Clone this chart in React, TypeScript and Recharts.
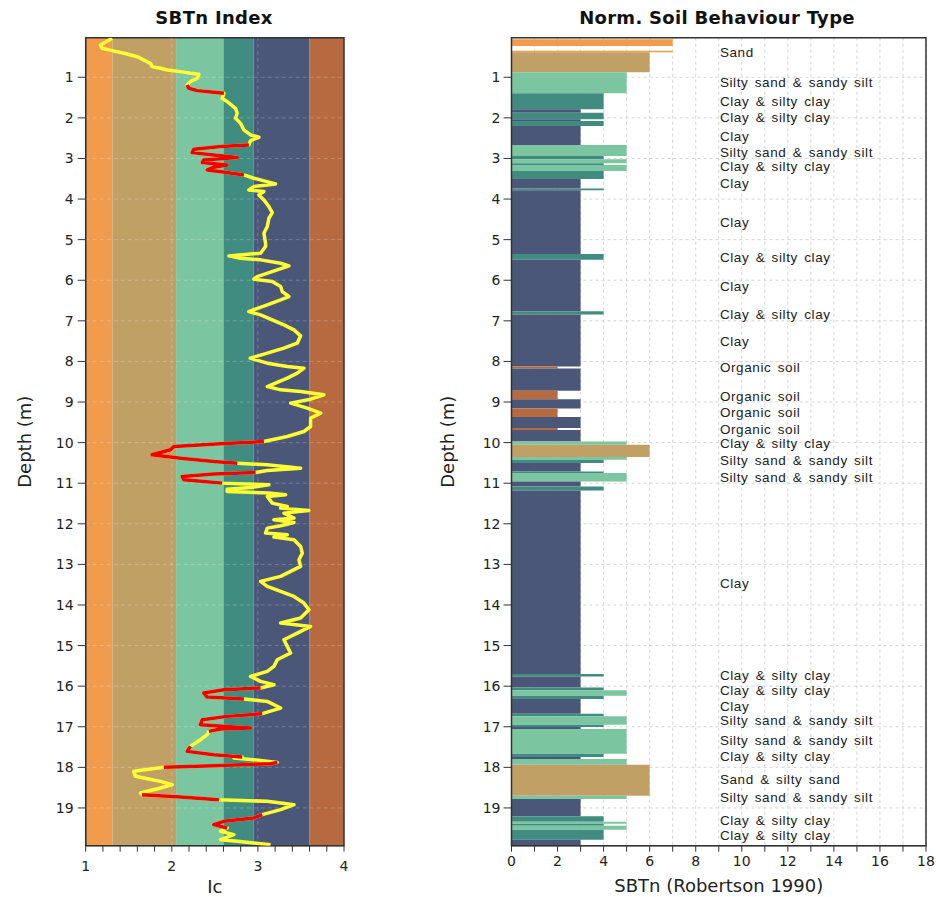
import React from 'react';
import { ScatterChart, XAxis, YAxis, ReferenceArea, ReferenceLine, Scatter, CartesianGrid, Label } from 'recharts';

// Ic profile: [depth (m), Ic]
const icProfile: [number, number][] = [
  [0.04, 1.306], [0.204, 1.171], [0.286, 1.19], [0.344, 1.306], [0.426, 1.481], [0.508, 1.616], [0.574, 1.674],
  [0.656, 1.752], [0.738, 1.771], [0.779, 1.868], [0.82, 1.946], [0.861, 2.101], [0.902, 2.217], [0.927, 2.314],
  [1.025, 2.295], [1.107, 2.217], [1.189, 2.178], [1.271, 2.198], [1.329, 2.295], [1.37, 2.488], [1.395, 2.605],
  [1.518, 2.585], [1.6, 2.643], [1.764, 2.74], [1.887, 2.76], [2.01, 2.74], [2.13, 2.798], [2.297, 2.837],
  [2.421, 2.915], [2.478, 3.012], [2.56, 2.915], [2.667, 2.895], [2.708, 2.566], [2.773, 2.256], [2.856, 2.236],
  [2.913, 2.488], [2.979, 2.76], [3.037, 2.372], [3.102, 2.353], [3.159, 2.643], [3.216, 2.488], [3.282, 2.411],
  [3.347, 2.643], [3.406, 2.837], [3.488, 2.953], [3.627, 3.205], [3.693, 2.953], [3.775, 2.895], [3.816, 3.07],
  [3.898, 3.012], [4.021, 3.07], [4.186, 3.128], [4.333, 3.167], [4.473, 3.128], [4.678, 3.109], [4.842, 3.07],
  [5.088, 3.089], [5.17, 3.089], [5.334, 3.031], [5.4, 2.663], [5.457, 2.798], [5.498, 3.031], [5.581, 3.264],
  [5.646, 3.36], [5.745, 3.225], [5.909, 2.992], [5.975, 2.953], [6.032, 3.167], [6.155, 3.264], [6.278, 3.283],
  [6.401, 3.36], [6.483, 3.264], [6.607, 3.109], [6.771, 2.895], [6.853, 3.031], [6.976, 3.167], [7.099, 3.302],
  [7.222, 3.419], [7.37, 3.496], [7.55, 3.457], [7.674, 3.302], [7.797, 3.109], [7.92, 2.911], [8.043, 3.109],
  [8.125, 3.341], [8.166, 3.535], [8.289, 3.457], [8.412, 3.341], [8.618, 3.109], [8.7, 3.264], [8.741, 3.496],
  [8.823, 3.767], [8.93, 3.612], [9.028, 3.38], [9.151, 3.574], [9.274, 3.729], [9.397, 3.612], [9.603, 3.612],
  [9.726, 3.535], [9.849, 3.341], [9.972, 3.07], [10.03, 2.566], [10.095, 2.023], [10.177, 1.984], [10.3, 1.771],
  [10.383, 2.101], [10.465, 2.488], [10.506, 2.76], [10.547, 3.109], [10.629, 3.496], [10.686, 3.109], [10.735, 2.973],
  [10.776, 2.488], [10.834, 2.12], [10.916, 2.14], [10.957, 2.372], [10.998, 2.585], [11.023, 2.953], [11.039, 3.128],
  [11.097, 2.953], [11.146, 2.643], [11.203, 2.643], [11.244, 3.128], [11.285, 3.322], [11.326, 3.109], [11.49, 3.167],
  [11.573, 3.341], [11.614, 3.264], [11.671, 3.593], [11.737, 3.302], [11.86, 3.419], [11.901, 3.186], [11.967, 3.419],
  [12.049, 3.264], [12.106, 3.109], [12.229, 3.089], [12.27, 3.341], [12.328, 3.186], [12.394, 3.419], [12.558, 3.496],
  [12.722, 3.516], [12.886, 3.477], [13.05, 3.496], [13.173, 3.38], [13.296, 3.264], [13.419, 3.031], [13.543, 3.109],
  [13.666, 3.264], [13.789, 3.419], [13.953, 3.535], [14.117, 3.593], [14.322, 3.496], [14.445, 3.264], [14.528, 3.612],
  [14.692, 3.457], [14.856, 3.302], [15.02, 3.341], [15.184, 3.38], [15.348, 3.225], [15.513, 3.186], [15.636, 3.109],
  [15.759, 2.915], [15.882, 3.031], [15.964, 3.186], [16.046, 3.031], [16.087, 2.605], [16.169, 2.372], [16.268, 2.411],
  [16.317, 2.837], [16.375, 3.109], [16.539, 3.264], [16.678, 3.05], [16.744, 2.643], [16.826, 2.353], [16.949, 2.333],
  [17.007, 2.721], [17.031, 2.915], [17.056, 2.566], [17.113, 2.43], [17.195, 2.411], [17.318, 2.333], [17.483, 2.217],
  [17.606, 2.178], [17.688, 2.488], [17.745, 2.818], [17.77, 2.721], [17.828, 3.031], [17.877, 3.225], [17.91, 3.147],
  [17.959, 2.488], [18.0, 1.907], [18.098, 1.558], [18.221, 1.578], [18.345, 1.868], [18.427, 2.004], [18.509, 1.868],
  [18.632, 1.636], [18.673, 1.655], [18.73, 2.101], [18.796, 2.547], [18.837, 3.109], [18.919, 3.419], [19.042, 3.264],
  [19.165, 3.05], [19.247, 2.953], [19.33, 2.605], [19.412, 2.488], [19.494, 2.643], [19.576, 2.566], [19.658, 2.721],
  [19.781, 2.566], [19.822, 2.76], [19.904, 3.147],
];

// depth ranges drawn in red (transition zones)
const redRanges: [number, number][] = [
  [1.189, 1.395], [2.667, 3.406], [9.972, 10.506], [10.735, 10.998], [16.046, 16.317],
  [16.678, 17.113], [17.483, 17.745], [17.877, 18.0], [18.673, 18.796], [19.165, 19.494],
];

// Ic zone boundaries and colours
const bandEdges = [1, 1.31, 2.05, 2.6, 2.95, 3.6, 4];
const bandColors = ['#F09C4C', '#C1A065', '#7BC6A0', '#418C80', '#4A5779', '#B7693F'];

// SBTn colour per zone number
const sbtZones = [2, 3, 4, 5, 6, 7];
const sbtZoneColors = ['#B7693F', '#4A5779', '#418C80', '#7BC6A0', '#C1A065', '#F09C4C'];

// layers: [top depth, bottom depth, SBTn]
const layers: [number, number, number][] = [
  [0.064, 0.229, 7], [0.345, 0.384, 7], [0.384, 0.877, 6], [0.877, 1.394, 5], [1.394, 1.788, 4],
  [1.788, 1.871, 3], [1.871, 2.034, 4], [2.034, 2.076, 3], [2.076, 2.199, 4], [2.199, 2.667, 3],
  [2.667, 2.938, 5], [2.938, 3.019, 4], [3.019, 3.118, 5], [3.118, 3.159, 4], [3.159, 3.307, 5],
  [3.307, 3.504, 4], [3.504, 3.743, 3], [3.743, 3.782, 4], [3.782, 5.351, 3], [5.351, 5.498, 4],
  [5.498, 6.762, 3], [6.762, 6.845, 4], [6.845, 8.126, 3], [8.126, 8.175, 2], [8.175, 8.724, 3],
  [8.724, 8.929, 2], [8.929, 9.16, 3], [9.16, 9.372, 2], [9.372, 9.643, 3], [9.643, 9.692, 2],
  [9.692, 9.973, 3], [9.973, 10.054, 5], [10.054, 10.357, 6], [10.357, 10.424, 5], [10.424, 10.505, 4],
  [10.505, 10.711, 3], [10.711, 10.751, 4], [10.751, 10.958, 5], [10.958, 11.081, 3], [11.081, 11.179, 4],
  [11.179, 15.7, 3], [15.7, 15.76, 4], [15.76, 16.03, 3], [16.03, 16.1, 4], [16.1, 16.235, 5],
  [16.235, 16.316, 4], [16.316, 16.678, 3], [16.678, 16.744, 4], [16.744, 16.948, 5], [16.948, 17.006, 4],
  [17.006, 17.055, 3], [17.055, 17.663, 5], [17.663, 17.745, 4], [17.745, 17.794, 3], [17.794, 17.935, 5],
  [17.935, 18.698, 6], [18.698, 18.78, 5], [18.78, 19.207, 3], [19.207, 19.338, 4], [19.338, 19.387, 5],
  [19.387, 19.436, 4], [19.436, 19.535, 5], [19.535, 19.781, 4], [19.781, 19.93, 3],
];

// layer description labels
const labelDepths = [
  0.369, 1.124, 1.6, 1.97, 2.445, 2.847, 3.2, 3.61, 4.57, 5.43, 6.156, 6.83, 7.51, 8.15, 8.865, 9.26, 9.66,
  10.01, 10.42, 10.86, 13.46, 15.72, 16.09, 16.48, 16.84, 17.34, 17.73, 18.3, 18.73, 19.29, 19.675,
];
const labelTexts = [
  'Sand', 'Silty sand & sandy silt', 'Clay & silty clay', 'Clay & silty clay', 'Clay', 'Silty sand & sandy silt',
  'Clay & silty clay', 'Clay', 'Clay', 'Clay & silty clay', 'Clay', 'Clay & silty clay', 'Clay', 'Organic soil',
  'Organic soil', 'Organic soil', 'Organic soil', 'Clay & silty clay', 'Silty sand & sandy silt',
  'Silty sand & sandy silt', 'Clay', 'Clay & silty clay', 'Clay & silty clay', 'Clay', 'Silty sand & sandy silt',
  'Silty sand & sandy silt', 'Clay & silty clay', 'Sand & silty sand', 'Silty sand & sandy silt',
  'Clay & silty clay', 'Clay & silty clay',
];
const labelSbt = 9.05;

const depthTicks = [1, 2, 3, 4, 5, 6, 7, 8, 9, 10, 11, 12, 13, 14, 15, 16, 17, 18, 19];
const icTicks = [1, 1.2, 1.4, 1.6, 1.8, 2, 2.2, 2.4, 2.6, 2.8, 3, 3.2, 3.4, 3.6, 3.8, 4];
const icGridLines = [2, 3];
const sbtTicks = [0, 1, 2, 3, 4, 5, 6, 7, 8, 9, 10, 11, 12, 13, 14, 15, 16, 17, 18];
const depthDomain: [number, number] = [0.025, 19.93];

const profilePts = icProfile.map(([d, ic]) => ({ x: ic, y: d }));
const redSegments = redRanges.map(([a, b]) => profilePts.filter((p) => p.y >= a - 1e-9 && p.y <= b + 1e-9));
const labelPts = labelDepths.map((d, i) => ({ x: labelSbt, y: d, label: labelTexts[i] }));
const zoneColor = (z: number) => sbtZoneColors[sbtZones.indexOf(z)];

const FONT = 'DejaVu Sans, Verdana, sans-serif';
const tickStyle = { fontSize: 14, fill: '#222', fontFamily: FONT };
const axisTitle = { fontSize: 18, fill: '#222', fontFamily: FONT };
const intOnly = (v: number) => (Math.abs(v - Math.round(v)) < 1e-6 ? String(Math.round(v)) : '');
const evenOnly = (v: number) => (Math.round(v) % 2 === 0 ? String(Math.round(v)) : '');

const NoDot = () => <g />;

const LabelShape = (p: any) => (
  <text
    x={p.cx}
    y={p.cy}
    dy="0.36em"
    fontSize={13.5}
    fill="#222"
    fontFamily="Liberation Sans, Arial, sans-serif"
    style={{ letterSpacing: '0.6px', wordSpacing: '2px' }}
  >
    {p.payload.label}
  </text>
);

const titleStyle: React.CSSProperties = {
  position: 'absolute',
  top: 7,
  fontFamily: FONT,
  fontWeight: 'bold',
  fontSize: 18,
  letterSpacing: '0.3px',
  color: '#111',
  textAlign: 'center',
  whiteSpace: 'nowrap',
};

export default function App() {
  return (
    <div style={{ position: 'absolute', left: 0, top: 0, width: 936, height: 897, background: '#fff' }}>
      <div style={{ ...titleStyle, left: 114, width: 200 }}>SBTn Index</div>
      <div style={{ ...titleStyle, left: 567, width: 300 }}>Norm. Soil Behaviour Type</div>

      <div style={{ position: 'absolute', left: 0, top: 0 }}>
        <ScatterChart width={360} height={897} margin={{ top: 37.7, right: 16, bottom: 0, left: 0 }}>
          <XAxis
            type="number"
            dataKey="x"
            domain={[1, 4]}
            ticks={icTicks}
            interval={0}
            tickFormatter={intOnly}
            tick={tickStyle}
            tickSize={6}
            tickMargin={9}
            height={51.3}
            stroke="#333"
            allowDataOverflow
          >
            <Label value="Ic" position="insideBottom" offset={4} style={axisTitle} />
          </XAxis>
          <YAxis
            type="number"
            dataKey="y"
            reversed
            domain={depthDomain}
            ticks={depthTicks}
            interval={0}
            tick={tickStyle}
            tickSize={8}
            tickMargin={4}
            width={85.7}
            stroke="#333"
            allowDataOverflow
          >
            <Label value="Depth (m)" angle={-90} position="insideLeft" offset={25} style={{ ...axisTitle, textAnchor: 'middle' }} />
          </YAxis>
          {bandColors.map((c, i) => (
            <ReferenceArea
              key={'b' + i}
              x1={bandEdges[i]}
              x2={bandEdges[i + 1]}
              y1={depthDomain[0]}
              y2={depthDomain[1]}
              fill={c}
              fillOpacity={1}
              stroke="none"
            />
          ))}
          {depthTicks.map((d) => (
            <ReferenceLine key={'h' + d} y={d} stroke="#ffffff" strokeOpacity={0.22} strokeDasharray="4 3" />
          ))}
          {icGridLines.map((v) => (
            <ReferenceLine key={'v' + v} x={v} stroke="#ffffff" strokeOpacity={0.22} strokeDasharray="4 3" />
          ))}
          <Scatter
            data={profilePts}
            shape={NoDot}
            line={{ stroke: '#FFFF33', strokeWidth: 3.5, strokeLinejoin: 'round' }}
            isAnimationActive={false}
          />
          {redSegments.map((seg, i) => (
            <Scatter
              key={'r' + i}
              data={seg}
              shape={NoDot}
              line={{ stroke: '#F00000', strokeWidth: 3.5, strokeLinejoin: 'round' }}
              isAnimationActive={false}
            />
          ))}
          <ReferenceArea x1={1} x2={4} y1={depthDomain[0]} y2={depthDomain[1]} fill="none" stroke="#333" strokeWidth={1.5} />
        </ScatterChart>
      </div>

      <div style={{ position: 'absolute', left: 400, top: 0 }}>
        <ScatterChart width={536} height={897} margin={{ top: 37.7, right: 10, bottom: 0, left: 0 }}>
          <CartesianGrid stroke="#d4d4d4" strokeDasharray="3 3" />
          <XAxis
            type="number"
            dataKey="x"
            domain={[0, 18]}
            ticks={sbtTicks}
            interval={0}
            tickFormatter={evenOnly}
            tick={tickStyle}
            tickSize={6}
            tickMargin={4}
            height={51.3}
            stroke="#333"
            allowDataOverflow
          >
            <Label value="SBTn (Robertson 1990)" position="insideBottom" offset={5} style={axisTitle} />
          </XAxis>
          <YAxis
            type="number"
            dataKey="y"
            reversed
            domain={depthDomain}
            ticks={depthTicks}
            interval={0}
            tick={tickStyle}
            tickSize={8}
            tickMargin={3}
            width={111.5}
            stroke="#333"
            allowDataOverflow
          >
            <Label value="Depth (m)" angle={-90} position="insideLeft" offset={48} style={{ ...axisTitle, textAnchor: 'middle' }} />
          </YAxis>
          {layers.map(([t, b, z], i) => (
            <ReferenceArea key={'l' + i} x1={0} x2={z} y1={t} y2={b} fill={zoneColor(z)} fillOpacity={1} stroke="none" />
          ))}
          <Scatter data={labelPts} shape={LabelShape} isAnimationActive={false} />
          <ReferenceArea x1={0} x2={18} y1={depthDomain[0]} y2={depthDomain[1]} fill="none" stroke="#333" strokeWidth={1.5} />
        </ScatterChart>
      </div>
    </div>
  );
}
